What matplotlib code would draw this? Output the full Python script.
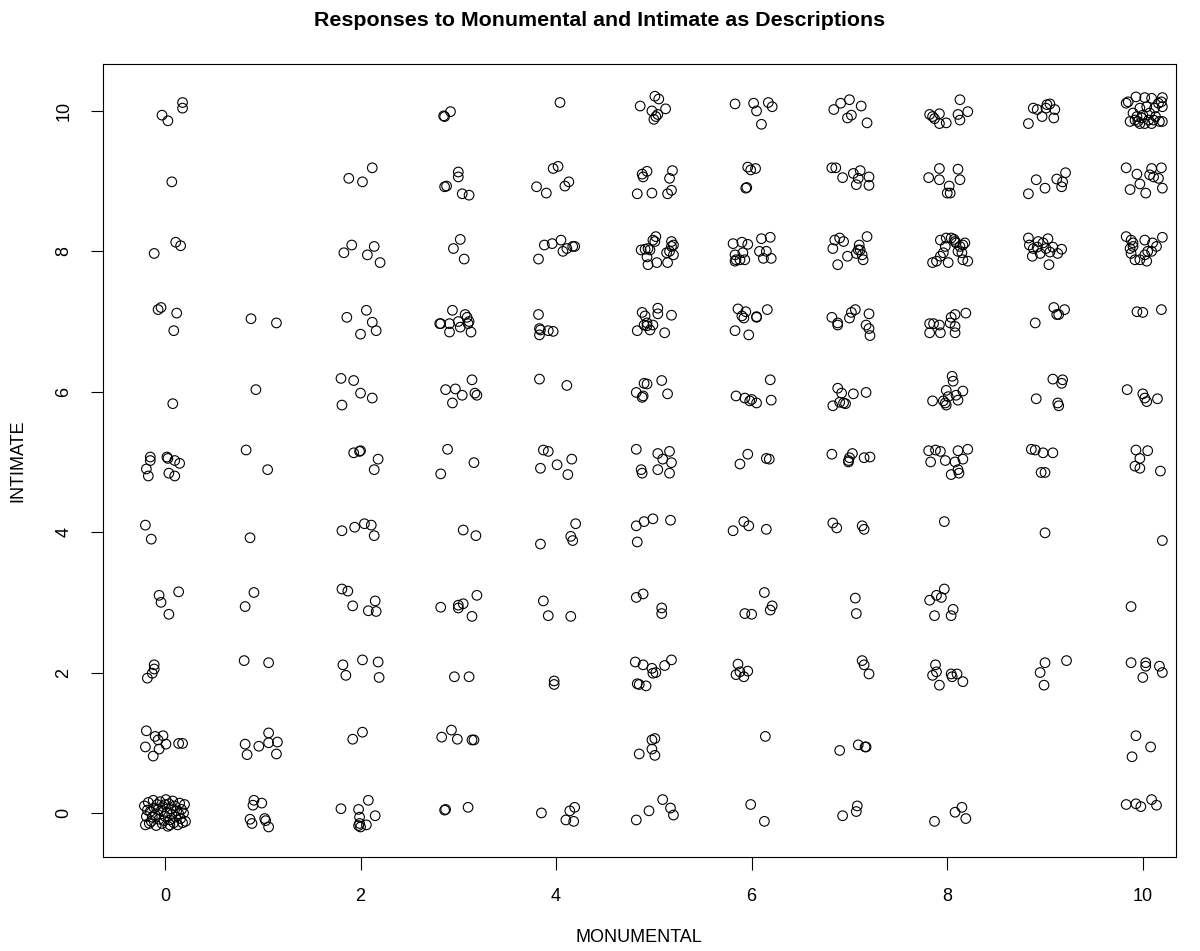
import matplotlib
matplotlib.use("Agg")
import matplotlib.pyplot as plt

plt.rcParams['font.family'] = ['Liberation Sans', 'DejaVu Sans']

# jittered (MONUMENTAL, INTIMATE) responses, grouped by intimate level
i10 = [(-0.03, 9.94), (0.03, 9.86), (0.18, 10.12), (0.18, 10.04),
       (2.85, 9.93), (2.86, 9.92), (2.92, 9.99),
       (4.04, 10.12),
       (4.86, 10.07), (5.01, 10.21), (5.05, 10.17), (4.98, 10.00), (5.12, 10.03), (5.04, 9.95), (5.02, 9.92), (5.00, 9.88),
       (5.83, 10.10), (6.02, 10.11), (6.17, 10.12), (6.05, 10.00), (6.21, 10.06), (6.10, 9.81),
       (6.84, 10.02), (6.91, 10.11), (7.00, 10.16), (7.12, 10.07), (6.98, 9.90), (7.02, 9.94), (7.18, 9.83),
       (7.82, 9.95), (7.87, 9.89), (7.92, 9.96), (7.99, 9.83), (7.92, 9.82), (8.13, 10.16), (8.21, 9.99), (8.11, 9.95), (8.13, 9.87), (7.85, 9.92),
       (8.83, 9.82), (8.88, 10.04), (8.92, 10.02), (8.97, 9.92), (9.02, 10.09), (9.05, 10.10), (9.10, 10.02), (9.09, 9.90), (9.01, 10.04),
       (9.83, 10.11), (9.93, 10.20), (10.02, 10.19), (10.09, 10.18), (10.20, 10.19), (10.20, 10.06), (10.16, 10.11),
       (10.04, 10.06), (9.97, 10.04), (9.90, 9.97), (9.94, 9.92), (10.00, 9.94), (10.07, 9.97), (9.95, 9.85),
       (10.02, 9.82), (9.87, 9.85), (10.11, 9.87), (10.17, 9.85), (10.20, 9.85), (10.13, 9.92), (9.99, 9.90),
       (10.06, 9.87), (9.92, 9.87), (10.12, 10.04), (9.85, 10.13), (10.19, 10.13), (9.97, 9.82), (10.09, 9.82)]

i9 = [(0.07, 8.99),
      (1.88, 9.04), (2.02, 8.99), (2.12, 9.19),
      (2.86, 8.92), (2.88, 8.93), (3.00, 9.13), (3.00, 9.06), (3.04, 8.82), (3.11, 8.80),
      (3.80, 8.92), (3.90, 8.83), (3.97, 9.18), (4.02, 9.21), (4.09, 8.93), (4.13, 8.99),
      (4.83, 8.82), (4.98, 8.83), (4.89, 9.06), (4.88, 9.10), (4.93, 9.14), (5.14, 8.82), (5.18, 8.87), (5.16, 9.04), (5.19, 9.15),
      (5.96, 9.20), (5.99, 9.16), (6.04, 9.18), (5.94, 8.90), (5.95, 8.91),
      (6.82, 9.19), (6.86, 9.19), (6.93, 9.05), (7.04, 9.11), (7.11, 9.15), (7.09, 9.04), (7.07, 8.95), (7.20, 9.06), (7.20, 8.94),
      (7.81, 9.05), (7.92, 9.18), (7.92, 9.02), (8.02, 8.93), (8.00, 8.83), (8.03, 8.83), (8.11, 9.17), (8.13, 9.02),
      (8.83, 8.82), (8.91, 9.02), (9.00, 8.90), (9.12, 9.03), (9.17, 8.92), (9.21, 9.12), (9.18, 8.99),
      (9.83, 9.19), (9.94, 9.10), (10.09, 9.18), (10.19, 9.19), (10.07, 9.09), (10.11, 9.06), (10.16, 9.04),
      (9.87, 8.88), (9.97, 8.96), (10.03, 8.83), (10.20, 8.90)]

i8 = [(-0.11, 7.97), (0.11, 8.13), (0.16, 8.08),
      (1.83, 7.98), (1.91, 8.09), (2.07, 7.95), (2.14, 8.07), (2.20, 7.84),
      (2.95, 8.04), (3.02, 8.17), (3.06, 7.89),
      (3.82, 7.89), (3.88, 8.09), (3.96, 8.11), (4.05, 8.16), (4.07, 8.00), (4.11, 8.04), (4.17, 8.07), (4.19, 8.07),
      (4.87, 8.02), (4.91, 8.03), (4.94, 8.04), (4.96, 8.02), (4.93, 7.92), (4.99, 8.16), (5.02, 8.21), (5.01, 8.14), (4.94, 7.81),
      (5.03, 7.84), (5.14, 7.84), (5.13, 7.98), (5.16, 8.00), (5.18, 8.07), (5.18, 8.14), (5.20, 8.09), (5.20, 7.95),
      (5.81, 8.11), (5.83, 7.86), (5.84, 7.88), (5.88, 7.88), (5.91, 7.98), (5.90, 8.13), (5.96, 8.10), (5.93, 7.88),
      (6.10, 8.18), (6.19, 8.20), (6.08, 8.00), (6.15, 8.00), (6.12, 7.90), (6.20, 7.90), (5.83, 7.95),
      (6.83, 8.04), (6.85, 8.16), (6.90, 8.19), (6.94, 8.14), (6.98, 7.93), (7.07, 7.97), (7.10, 8.09), (7.11, 8.02),
      (7.13, 7.95), (7.14, 7.88), (7.18, 8.21), (6.88, 7.81), (7.09, 8.02),
      (7.85, 7.84), (7.89, 7.86), (7.93, 7.93), (7.96, 7.98), (7.98, 8.07), (7.93, 8.16), (7.99, 8.19), (8.04, 8.19), (8.08, 8.14),
      (8.07, 8.17), (8.09, 8.12), (8.13, 8.07), (8.16, 8.09), (8.18, 8.12), (8.15, 7.98), (8.16, 7.88), (8.21, 7.86), (8.11, 8.00), (8.01, 7.84),
      (8.83, 8.19), (8.84, 8.09), (8.88, 8.04), (8.93, 8.14), (8.95, 7.97), (8.98, 8.12), (9.03, 8.18), (9.01, 8.04),
      (9.05, 7.99), (9.08, 8.06), (9.13, 7.97), (9.17, 8.03), (8.87, 7.93), (9.04, 7.81), (8.92, 8.06),
      (9.83, 8.21), (9.88, 8.16), (9.90, 8.12), (9.87, 8.04), (9.88, 7.97), (9.92, 7.88), (9.97, 7.88), (10.02, 7.95),
      (10.02, 8.16), (10.10, 8.12), (10.05, 8.00), (10.09, 8.00), (10.14, 8.07), (10.20, 8.20), (10.04, 7.86), (9.90, 8.07)]

i7 = [(-0.07, 7.17), (-0.04, 7.20), (0.12, 7.12), (0.09, 6.87),
      (0.88, 7.04), (1.14, 6.98),
      (1.86, 7.06), (2.06, 7.16), (2.12, 6.99), (2.16, 6.87), (2.00, 6.82),
      (2.81, 6.97), (2.82, 6.97), (2.91, 6.97), (2.94, 7.16), (3.00, 7.00), (3.02, 6.92), (3.07, 7.10), (3.09, 7.06),
      (3.11, 7.00), (3.10, 6.97), (3.13, 6.85), (2.91, 6.85),
      (3.82, 7.10), (3.83, 6.90), (3.84, 6.88), (3.83, 6.81), (3.92, 6.87), (3.97, 6.86),
      (4.83, 6.87), (4.88, 7.13), (4.91, 7.08), (4.90, 6.95), (4.93, 6.98), (4.96, 6.88), (4.99, 6.95), (5.04, 7.19),
      (5.04, 7.11), (5.11, 6.84), (5.18, 7.09), (4.93, 6.94),
      (5.83, 6.87), (5.86, 7.18), (5.90, 7.08), (5.92, 7.05), (5.94, 7.14), (6.05, 7.06), (6.05, 7.07), (6.16, 7.17), (5.97, 6.81),
      (6.82, 7.06), (6.88, 6.98), (6.88, 6.95), (7.00, 7.05), (7.02, 7.13), (7.06, 7.17), (7.20, 7.11), (7.17, 6.95), (7.20, 6.90), (7.21, 6.80),
      (7.82, 6.97), (7.82, 6.84), (7.86, 6.97), (7.92, 6.95), (7.93, 6.84), (8.03, 6.98), (8.04, 7.06), (8.08, 7.10),
      (8.19, 7.12), (8.08, 6.93), (8.08, 6.84),
      (8.90, 6.98), (9.09, 7.20), (9.12, 7.10), (9.14, 7.10), (9.20, 7.17),
      (9.94, 7.14), (10.00, 7.13), (10.19, 7.17)]

i6 = [(0.08, 5.83),
      (0.93, 6.03),
      (1.80, 6.19), (1.93, 6.16), (2.00, 5.98), (2.12, 5.91), (1.81, 5.81),
      (2.87, 6.03), (2.97, 6.04), (3.04, 5.95), (3.14, 6.17), (3.17, 5.98), (3.19, 5.95), (2.94, 5.84),
      (3.83, 6.18), (4.11, 6.09),
      (4.82, 5.99), (4.88, 5.92), (4.89, 5.94), (4.90, 6.12), (4.93, 6.11), (5.08, 6.16), (5.14, 5.97),
      (5.84, 5.94), (5.93, 5.91), (5.98, 5.87), (6.00, 5.89), (6.05, 5.84), (6.19, 6.17), (6.20, 5.88),
      (6.88, 6.05), (6.92, 5.98), (7.04, 5.97), (7.17, 5.99), (6.83, 5.80), (6.90, 5.85), (6.94, 5.84), (6.96, 5.83),
      (8.05, 6.22), (8.06, 6.15), (7.99, 6.02), (8.16, 6.01), (7.85, 5.87), (7.96, 5.87), (8.01, 5.93), (8.09, 5.95),
      (8.11, 5.88), (7.99, 5.81), (7.98, 5.84),
      (8.91, 5.90), (9.08, 6.18), (9.18, 6.17), (9.17, 6.12), (9.13, 5.84), (9.14, 5.80),
      (9.84, 6.03), (10.00, 5.97), (10.02, 5.91), (10.04, 5.86), (10.15, 5.90)]

i5 = [(-0.15, 5.07), (-0.15, 5.02), (0.02, 5.07), (0.03, 5.05), (0.10, 5.02), (0.15, 4.98), (-0.19, 4.90),
      (-0.17, 4.80), (0.04, 4.84), (0.10, 4.80),
      (0.83, 5.17), (1.05, 4.89),
      (1.93, 5.13), (1.99, 5.15), (2.00, 5.16), (2.18, 5.04), (2.14, 4.89),
      (2.89, 5.18), (2.82, 4.83), (3.16, 4.99),
      (3.87, 5.17), (3.92, 5.15), (4.01, 4.96), (4.16, 5.04), (3.84, 4.91), (4.12, 4.82),
      (4.82, 5.18), (5.04, 5.12), (5.09, 5.04), (5.16, 5.15), (5.18, 4.99), (4.87, 4.89), (4.88, 4.84), (5.04, 4.89), (5.16, 4.84),
      (5.88, 4.97), (5.96, 5.11), (6.15, 5.05), (6.18, 5.04),
      (6.82, 5.11), (6.99, 5.02), (7.00, 5.06), (7.03, 5.12), (7.15, 5.06), (7.21, 5.07), (6.99, 5.00),
      (7.81, 5.16), (7.88, 5.17), (7.93, 5.15), (8.11, 5.16), (8.21, 5.18), (7.83, 5.00), (7.98, 5.02), (8.08, 5.00),
      (8.16, 5.04), (8.11, 4.89), (8.12, 4.84), (8.04, 4.82),
      (8.86, 5.18), (8.90, 5.17), (8.98, 5.13), (9.08, 5.13), (8.96, 4.85), (9.00, 4.85),
      (9.93, 5.17), (10.05, 5.16), (9.97, 5.05), (9.92, 4.94), (9.97, 4.91), (10.18, 4.87)]

i4 = [(-0.20, 4.10), (-0.14, 3.90),
      (0.87, 3.92),
      (1.81, 4.02), (1.94, 4.07), (2.04, 4.12), (2.11, 4.10), (2.14, 3.95),
      (3.05, 4.03), (3.18, 3.95),
      (3.84, 3.83), (4.15, 3.94), (4.17, 3.88), (4.20, 4.12),
      (4.82, 4.09), (4.90, 4.15), (4.99, 4.19), (5.17, 4.17), (4.83, 3.86),
      (5.81, 4.02), (5.92, 4.15), (5.97, 4.09), (6.15, 4.04),
      (6.83, 4.13), (6.87, 4.06), (7.13, 4.09), (7.15, 4.04),
      (7.97, 4.15),
      (9.00, 3.99),
      (10.20, 3.88)]

i3 = [(-0.06, 3.10), (-0.04, 3.00), (0.14, 3.15), (0.04, 2.83),
      (0.91, 3.14), (0.82, 2.94),
      (1.81, 3.19), (1.87, 3.16), (1.92, 2.95), (2.08, 2.88), (2.16, 2.87), (2.15, 3.02),
      (2.82, 2.93), (3.00, 2.96), (3.00, 2.92), (3.05, 2.98), (3.19, 3.10), (3.14, 2.80),
      (3.87, 3.02), (3.92, 2.81), (4.15, 2.80),
      (4.82, 3.07), (4.89, 3.12), (5.08, 2.92), (5.08, 2.84),
      (5.93, 2.84), (6.00, 2.83), (6.13, 3.14), (6.21, 2.95), (6.19, 2.89),
      (7.06, 3.06), (7.07, 2.84),
      (7.82, 3.03), (7.89, 3.10), (7.94, 3.07), (7.97, 3.19), (7.87, 2.81), (8.04, 2.81), (8.06, 2.90),
      (9.88, 2.94)]

i2 = [(-0.18, 1.92), (-0.13, 1.99), (-0.11, 2.05), (-0.11, 2.11),
      (0.81, 2.17), (1.06, 2.14),
      (1.82, 2.11), (1.85, 1.96), (2.02, 2.18), (2.18, 2.15), (2.19, 1.93),
      (2.96, 1.94), (3.11, 1.94),
      (3.98, 1.88), (3.98, 1.83),
      (4.81, 2.15), (4.89, 2.11), (4.98, 2.06), (4.99, 1.99), (5.02, 2.00), (5.11, 2.10), (5.18, 2.18),
      (4.83, 1.84), (4.85, 1.83), (4.92, 1.81),
      (5.86, 2.12), (5.88, 2.01), (5.84, 1.97), (5.92, 1.94), (5.96, 2.02),
      (7.13, 2.17), (7.15, 2.11), (7.20, 1.98),
      (7.88, 2.11), (7.89, 2.01), (7.85, 1.96), (8.04, 1.98), (8.05, 1.94), (8.10, 1.98), (7.92, 1.82), (8.16, 1.87),
      (9.00, 2.14), (9.22, 2.17), (8.95, 2.00), (8.99, 1.82),
      (9.88, 2.14), (10.03, 2.14), (10.03, 2.09), (10.17, 2.09), (10.20, 2.00), (10.00, 1.93)]

i1 = [(-0.19, 1.17), (-0.10, 1.09), (-0.02, 1.10), (-0.07, 1.04), (0.01, 0.98), (-0.20, 0.94), (-0.06, 0.91),
      (-0.12, 0.81), (0.14, 0.99), (0.18, 0.99),
      (0.82, 0.98), (0.96, 0.95), (1.06, 1.14), (1.06, 1.00), (1.15, 1.01), (1.14, 0.84), (0.84, 0.83),
      (1.92, 1.05), (2.02, 1.15),
      (2.83, 1.08), (2.93, 1.18), (2.99, 1.05), (3.14, 1.04), (3.16, 1.04),
      (4.98, 1.04), (5.01, 1.06), (4.98, 0.91), (5.01, 0.82), (4.85, 0.84),
      (6.14, 1.09),
      (6.90, 0.89), (7.09, 0.97), (7.16, 0.94), (7.17, 0.94),
      (9.93, 1.10), (10.08, 0.94), (9.89, 0.80)]

i0 = [(-0.21, 0.10), (-0.19, -0.05), (-0.20, -0.17), (-0.17, 0.15), (-0.15, 0.02), (-0.14, -0.12), (-0.12, 0.18),
      (-0.11, 0.07), (-0.10, -0.03), (-0.09, -0.18), (-0.08, 0.12), (-0.06, -0.09), (-0.05, 0.16), (-0.04, 0.03),
      (-0.03, -0.15), (-0.02, 0.09), (0.00, -0.05), (0.01, 0.19), (0.02, 0.00), (0.03, -0.19), (0.04, 0.13),
      (0.05, -0.10), (0.06, 0.06), (0.07, -0.02), (0.08, 0.17), (0.09, -0.14), (0.10, 0.10), (0.11, -0.06),
      (0.12, 0.03), (0.13, -0.17), (0.15, 0.14), (0.16, -0.08), (0.17, 0.05), (0.18, -0.14), (0.20, 0.12),
      (0.21, -0.12), (-0.18, 0.04), (-0.13, -0.06), (-0.07, 0.05), (0.00, 0.12), (0.05, -0.17), (0.14, -0.01),
      (-0.16, -0.15), (0.19, 0.00), (-0.01, -0.11),
      (0.91, 0.18), (0.90, 0.11), (0.99, 0.14), (0.87, -0.09), (0.89, -0.15), (1.02, -0.08), (1.03, -0.11), (1.06, -0.20),
      (1.80, 0.06), (1.98, 0.05), (2.08, 0.18), (2.15, -0.04), (1.99, -0.06), (1.99, -0.15), (1.98, -0.18), (2.00, -0.20), (2.06, -0.17),
      (2.86, 0.04), (2.87, 0.05), (3.10, 0.08),
      (3.85, 0.00), (4.14, 0.03), (4.19, 0.08), (4.10, -0.10), (4.18, -0.12),
      (4.82, -0.10), (4.95, 0.03), (5.09, 0.19), (5.17, 0.07), (5.20, -0.03),
      (5.99, 0.12), (6.13, -0.12),
      (6.93, -0.04), (7.07, 0.02), (7.08, 0.10),
      (7.87, -0.12), (8.08, 0.01), (8.15, 0.08), (8.19, -0.08),
      (9.83, 0.12), (9.93, 0.13), (9.98, 0.09), (10.09, 0.19), (10.14, 0.11)]

points = i10 + i9 + i8 + i7 + i6 + i5 + i4 + i3 + i2 + i1 + i0
monumental = [p[0] for p in points]
intimate = [p[1] for p in points]

fig = plt.figure(figsize=(12, 9.51), dpi=100)
ax = fig.add_axes([0.0858, 0.0989, 0.894, 0.8339])

ax.scatter(monumental, intimate, s=48, facecolors='none', edgecolors='black', linewidths=0.8)

ax.set_xlim(-0.634, 10.337)
ax.set_ylim(-0.627, 10.67)
ax.set_xticks([0, 2, 4, 6, 8, 10])
ax.set_yticks([0, 2, 4, 6, 8, 10])

for s in ax.spines.values():
    s.set_linewidth(0.8)

ax.tick_params(axis='both', direction='out', length=9, width=0.8, pad=13, labelsize=13)
for lab in ax.get_yticklabels():
    lab.set_rotation(90)
    lab.set_va('center')

ax.set_xlabel('MONUMENTAL', fontsize=13)
ax.set_ylabel('INTIMATE', fontsize=13)
ax.xaxis.set_label_coords(0.5, -0.091)
ax.yaxis.set_label_coords(-0.071, 0.5)

fig.text(0.5, 0.978, 'Responses to Monumental and Intimate as Descriptions',
         ha='center', va='center', fontsize=15.4, fontweight='bold')

fig.savefig('out.png', dpi=100)
